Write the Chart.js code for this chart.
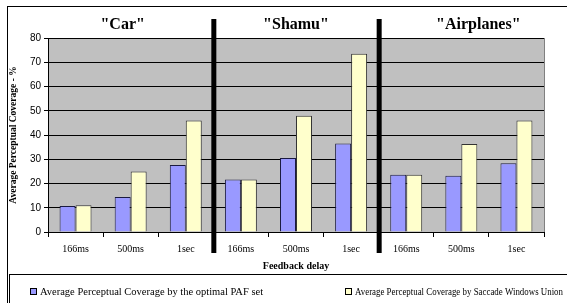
<!DOCTYPE html>
<html>
<head>
<meta charset="utf-8">
<script src="https://cdn.jsdelivr.net/npm/chart.js@4/dist/chart.umd.min.js"></script>
<style>
  body { margin: 0; background: #fff; }
  canvas { display: block; }
</style>
</head>
<body>
<canvas id="coverageChart" width="567" height="303"></canvas>
<script>
const groups = ['"Car"', '"Shamu"', '"Airplanes"'];
const delays = ['166ms', '500ms', '1sec', '166ms', '500ms', '1sec', '166ms', '500ms', '1sec'];
const pafValues = [10.7, 14.4, 27.6, 21.7, 30.5, 36.5, 23.6, 23.2, 28.3];
const saccadeValues = [11, 25, 46, 21.7, 47.9, 73.5, 23.6, 36.3, 46];
const yTicks = [0, 10, 20, 30, 40, 50, 60, 70, 80];
const seriesNames = [
  'Average Perceptual Coverage by the optimal PAF set',
  'Average Perceptual Coverage by Saccade Windows Union'
];

const serif = '"Liberation Serif", "Times New Roman", serif';
const sans = '"Liberation Sans", Arial, sans-serif';

// gray plot background, frame, separators, titles and legend
const decorations = {
  id: 'decorations',
  beforeDraw(chart) {
    const { ctx, chartArea: a } = chart;
    ctx.save();
    ctx.fillStyle = '#c0c0c0';
    ctx.fillRect(a.left, a.top, a.right - a.left, a.bottom - a.top);
    ctx.restore();
  },
  afterDraw(chart) {
    const { ctx, chartArea: a } = chart;
    const x = chart.scales.x;
    ctx.save();
    // plot right edge
    ctx.strokeStyle = '#808080';
    ctx.lineWidth = 1;
    ctx.beginPath();
    ctx.moveTo(Math.round(a.right) + 0.5, a.top);
    ctx.lineTo(Math.round(a.right) + 0.5, a.bottom);
    ctx.stroke();

    // outer frame
    ctx.strokeStyle = '#000';
    ctx.strokeRect(7.5, 6.5, 700, 400);
    // legend frame
    ctx.strokeRect(9.5, 274.5, 700, 100);

    // group separators
    ctx.fillStyle = '#000';
    [2, 5].forEach(i => {
      const sx = (x.getPixelForValue(i) + x.getPixelForValue(i + 1)) / 2;
      ctx.fillRect(sx - 2, 19, 5, 234);
    });

    // group titles
    ctx.font = 'bold 16px ' + serif;
    ctx.textAlign = 'center';
    ctx.textBaseline = 'middle';
    const titleShift = [-8, 0, 17];
    groups.forEach((g, i) => {
      const cx = (x.getPixelForValue(i * 3) + x.getPixelForValue(i * 3 + 2)) / 2 + titleShift[i];
      ctx.fillText(g, cx, 25);
    });

    // axis titles
    ctx.font = 'bold 10px ' + serif;
    ctx.fillText('Feedback delay', (a.left + a.right) / 2, 266);
    ctx.save();
    ctx.translate(14, (a.top + a.bottom) / 2);
    ctx.rotate(-Math.PI / 2);
    ctx.font = 'bold 9.5px ' + serif;
    ctx.fillText('Average Perceptual Coverage - %', 0, 0);
    ctx.restore();

    // legend
    const legendX = [30, 345];
    const legendW = [225, 208];
    ctx.font = '10.5px ' + serif;
    ctx.textAlign = 'left';
    chart.data.datasets.forEach((ds, i) => {
      ctx.fillStyle = ds.backgroundColor;
      ctx.fillRect(legendX[i] + 0.5, 288.5, 6, 6);
      ctx.strokeStyle = '#000';
      ctx.strokeRect(legendX[i] + 0.5, 288.5, 6, 6);
      ctx.fillStyle = '#000';
      ctx.fillText(ds.label, legendX[i] + 10, 292, legendW[i]);
    });
    ctx.restore();
  }
};

const ctx = document.getElementById('coverageChart').getContext('2d');
const coverageChart = new Chart(ctx, {
  type: 'bar',
  data: {
    labels: delays,
    datasets: [{
      label: seriesNames[0],
      data: pafValues,
      backgroundColor: '#9999ff',
      borderColor: '#1a1a40',
      borderWidth: 1,
      categoryPercentage: 0.58,
      barPercentage: 1
    }, {
      label: seriesNames[1],
      data: saccadeValues,
      backgroundColor: '#ffffcc',
      borderColor: '#333',
      borderWidth: 1,
      categoryPercentage: 0.58,
      barPercentage: 1
    }]
  },
  options: {
    responsive: false,
    animation: false,
    devicePixelRatio: 1,
    layout: { padding: { left: 0, right: 23, top: 38, bottom: 0 } },
    plugins: {
      legend: { display: false },
      tooltip: { enabled: false }
    },
    scales: {
      x: {
        afterFit: s => { s.height = 71; },
        grid: { drawOnChartArea: false, color: '#000', tickLength: 5, offset: true },
        border: { color: '#000' },
        ticks: { color: '#000', font: { family: serif, size: 10 }, padding: 6, maxRotation: 0, autoSkip: false }
      },
      y: {
        min: 0,
        max: 80,
        afterFit: s => { s.width = 48; },
        afterBuildTicks: s => { s.ticks = yTicks.map(v => ({ value: v })); },
        grid: { color: '#000', tickLength: 4 },
        border: { color: '#000' },
        ticks: { color: '#000', font: { family: sans, size: 10 }, padding: 3 }
      }
    }
  },
  plugins: [decorations]
});
</script>
</body>
</html>
